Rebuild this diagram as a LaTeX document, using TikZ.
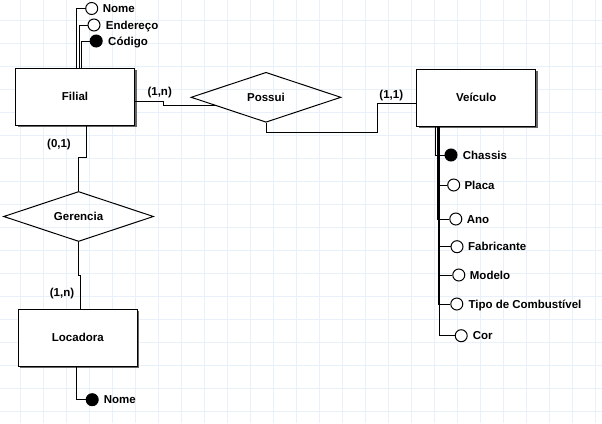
\documentclass[tikz,border=0pt]{standalone}
\usepackage{fontspec}
\setmainfont{Liberation Sans}
\usetikzlibrary{shapes.geometric,shadows,calc}
\definecolor{gridc}{RGB}{232,241,249}
\newcommand{\erfont}{\fontsize{11.5}{13}\selectfont\bfseries}
\begin{document}
\begin{tikzpicture}[x=1pt,y=-1pt,
  conn/.style={line width=1pt, black},
  entity/.style={draw, line width=1pt, fill=white, minimum width=119pt, minimum height=57pt,
    inner sep=0pt, font=\erfont,
    drop shadow={shadow xshift=2pt, shadow yshift=-2pt, fill=black!60, opacity=1}},
  rel/.style={draw, diamond, aspect=3, line width=1pt, minimum width=150pt, minimum height=50pt,
    inner sep=0pt, font=\erfont},
  attro/.style={circle, draw, line width=1pt, fill=white, minimum size=12pt, inner sep=0pt},
  attrf/.style={attro, fill=black},
  txt/.style={inner sep=0pt, font=\erfont, anchor=base west},
  card/.style={inner sep=0pt, font=\erfont}]
  \useasboundingbox (0,0) rectangle (602,423);
  \fill[white] (0,0) rectangle (602,423);
  % grid
  \foreach \g in {20,43,...,600} {
    \draw[gridc, line width=1pt] (\g,0) -- (\g,423);
  }
  \foreach \g in {20,43,...,420} {
    \draw[gridc, line width=1pt] (0,\g) -- (602,\g);
  }
  % entities
  \node[entity] (filial) at (75,96.8) {Filial};
  \node[entity] (veiculo) at (476.2,97.6) {Veículo};
  \node[entity] (locadora) at (77.8,337.5) {Locadora};
  % relationships
  \node[rel] (possui) at (266,97.3) {Possui};
  \node[rel] (gerencia) at (78.6,216.5) {Gerencia};
  % connectors
  \draw[conn] ([yshift=-4.5pt]filial.east) -- ++(28.6,0) |- ($(possui.west)!0.34!(possui.south)$);
  \draw[conn] (possui.south) -- ++(0,10) -| ([xshift=-38.3pt,yshift=-6pt]veiculo.west) -- ([yshift=-6pt]veiculo.west);
  \draw[conn] ([xshift=11pt]filial.south) -- ++(0,31.4) -| (gerencia.north);
  \draw[conn] (gerencia.south) -- ++(0,33.7) -| ([xshift=2.5pt]locadora.north);
  % cardinalities
  \node[card] (c1) at (159.7,93) {(1,n)};
  \node[card] (c2) at (391.3,96) {(1,1)};
  \node[card] (c3) at (59,145) {(0,1)};
  \node[card] (c4) at (62,293.3) {(1,n)};
  % Filial attributes
  \node[attro] (fnome) at (91.7,8.5) {};
  \node[attro] (fend) at (94,25) {};
  \node[attrf] (fcod) at (96.2,41) {};
  \draw[conn] ([xshift=1.3pt]filial.north) |- (fnome.west);
  \draw[conn] ([xshift=4pt]filial.north) |- (fend.west);
  \draw[conn] ([xshift=6.5pt]filial.north) |- (fcod.west);
  \node[txt] (tfnome) at (102.7,12.6) {Nome};
  \node[txt] (tfend) at (105.7,29.1) {Endereço};
  \node[txt] (tfcod) at (108,45.1) {Código};
  % Locadora attribute
  \node[attrf] (lnome) at (92.2,399.7) {};
  \draw[conn] ([xshift=-1.1pt]locadora.south) |- (lnome.west);
  \node[txt] (tlnome) at (103.7,403.8) {Nome};
  % Veiculo attributes
  \node[attrf] (chassis) at (451,155) {};
  \node[attro] (placa) at (453.7,185) {};
  \node[attro] (ano) at (455.8,219) {};
  \node[attro] (fabr) at (457,246.7) {};
  \node[attro] (modelo) at (458.8,275) {};
  \node[attro] (tipo) at (456.8,304) {};
  \node[attro] (cor) at (461.2,335.7) {};
  \draw[conn] ([xshift=-40.5pt]veiculo.south) |- (chassis.west);
  \draw[conn] ([xshift=-38.9pt]veiculo.south) |- (placa.west);
  \draw[conn] ([xshift=-38.4pt]veiculo.south) |- (ano.west);
  \draw[conn] ([xshift=-37.9pt]veiculo.south) |- (fabr.west);
  \draw[conn] ([xshift=-37.4pt]veiculo.south) |- (modelo.west);
  \draw[conn] ([xshift=-38.1pt]veiculo.south) |- (tipo.west);
  \draw[conn] ([xshift=-36.8pt]veiculo.south) |- (cor.west);
  \node[txt] (tchassis) at (462.7,159.1) {Chassis};
  \node[txt] (tplaca) at (464.3,189.1) {Placa};
  \node[txt] (tano) at (466.7,223.1) {Ano};
  \node[txt] (tfabr) at (468,250.8) {Fabricante};
  \node[txt] (tmodelo) at (469.7,279.1) {Modelo};
  \node[txt] (ttipo) at (468.3,308.1) {Tipo de Combustível};
  \node[txt] (tcor) at (472.7,339.8) {Cor};
\end{tikzpicture}
\end{document}
